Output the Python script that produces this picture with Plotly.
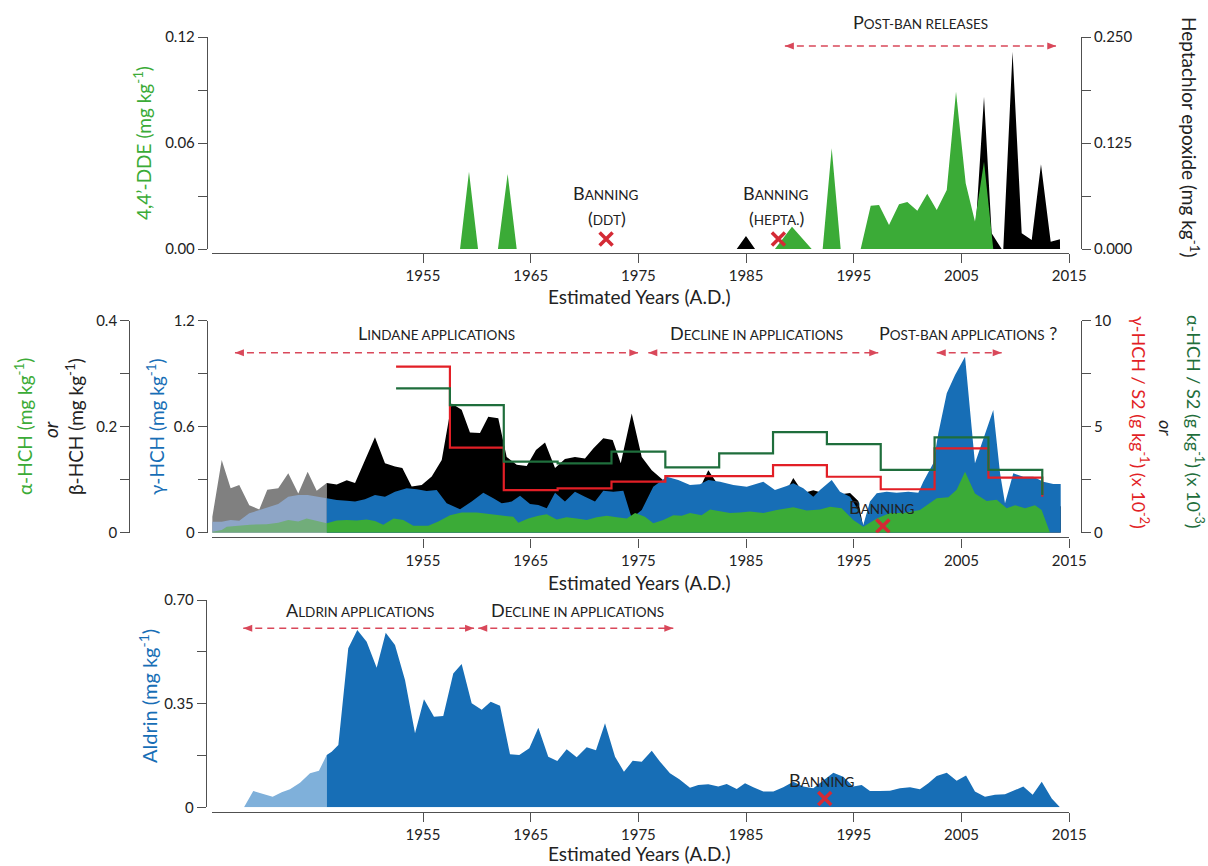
import plotly.graph_objects as go

# ------------------------------------------------------------------ data
x_ticks = [1955, 1965, 1975, 1985, 1995, 2005, 2015]
EARLY_END = 1946.06  # lighter (extrapolated) part ends here

# top panel : 4,4'-DDE (mg/kg) and heptachlor epoxide (mg/kg)
dde_year = [1958.44, 1959.27, 1960.11, 1961.96, 1962.86, 1963.70, 1987.68, 1989.26, 1991.09,
            1992.11, 1992.95, 1993.78, 1995.64, 1996.57, 1997.34, 1998.27, 1999.20, 1999.97,
            2000.90, 2001.82, 2002.70, 2003.63, 2004.49, 2005.39, 2006.25, 2007.09, 2007.95]
dde_val = [0, 0.0437, 0, 0, 0.0425, 0, 0, 0.0126, 0,
           0, 0.057, 0, 0, 0.0245, 0.0249, 0.0136, 0.0253, 0.0266,
           0.0217, 0.0313, 0.0221, 0.0334, 0.089, 0.0372, 0.0155, 0.0494, 0]

hepta_year = [1984.13, 1984.99, 1985.83, 2006.19, 2007.09, 2007.80, 2008.73, 2008.88, 2009.74,
              2010.59, 2011.52, 2012.38, 2013.28, 2014.14, 2014.15]
hepta_val = [0, 0.0153, 0, 0, 0.1796, 0.0185, 0, 0, 0.2326,
             0.0185, 0.0106, 0.100, 0.0086, 0.0114, 0]

# middle panel : gamma-HCH (mg/kg)
ghch_year = [1935.44, 1936.31, 1937.14, 1937.94, 1938.87, 1939.80, 1940.54, 1941.56, 1942.49,
             1943.42, 1944.29, 1945.13, 1946.06, 1946.99, 1947.92, 1948.69, 1949.61, 1950.54,
             1951.47, 1952.40, 1953.49, 1954.42, 1955.34, 1956.27, 1957.20, 1958.44, 1959.52,
             1960.60, 1961.53, 1962.31, 1963.24, 1964.01, 1964.94, 1965.71, 1966.49, 1967.26,
             1968.18, 1969.11, 1970.04, 1970.97, 1971.74, 1972.67, 1973.60, 1974.38, 1975.31,
             1976.38, 1977.63, 1978.70, 1979.79, 1980.72, 1981.49, 1982.58, 1983.81, 1985.06,
             1986.60, 1987.68, 1988.77, 1989.38, 1990.31, 1991.24, 1991.86, 1992.95, 1993.72,
             1994.65, 1995.42, 1995.88, 1996.50, 1997.13, 1998.05, 1998.98, 2000.06, 2000.99,
             2001.45, 2002.38, 2002.85, 2003.63, 2004.40, 2005.33, 2006.25, 2007.18, 2007.95,
             2008.58, 2009.04, 2009.81, 2010.74, 2011.67, 2012.60, 2013.52, 2014.21, 2014.22]
ghch_val = [0.062, 0.062, 0.072, 0.068, 0.110, 0.129, 0.144, 0.162, 0.204,
            0.213, 0.213, 0.204, 0.195, 0.185, 0.181, 0.176, 0.189, 0.213,
            0.204, 0.232, 0.251, 0.246, 0.236, 0.242, 0.166, 0.133, 0.176,
            0.226, 0.195, 0.166, 0.176, 0.209, 0.163, 0.157, 0.138, 0.226,
            0.176, 0.232, 0.204, 0.176, 0.238, 0.232, 0.238, 0.082, 0.129,
            0.260, 0.317, 0.298, 0.270, 0.274, 0.298, 0.289, 0.270, 0.260,
            0.289, 0.242, 0.264, 0.280, 0.251, 0.204, 0.242, 0.298, 0.232,
            0.204, 0.129, 0.044, 0.176, 0.223, 0.232, 0.226, 0.232, 0.226,
            0.289, 0.393, 0.563, 0.789, 0.893, 0.996, 0.393, 0.553, 0.695,
            0.336, 0.166, 0.336, 0.317, 0.317, 0.289, 0.276, 0.276, 0]

# middle panel : beta-HCH (mg/kg)
bhch_year = [1935.44, 1936.31, 1937.14, 1937.94, 1938.87, 1939.80, 1940.54, 1941.56, 1942.49,
             1943.42, 1944.29, 1945.13, 1946.06, 1946.99, 1947.92, 1948.69, 1950.54, 1951.47,
             1952.40, 1953.08, 1953.95, 1954.88, 1955.81, 1956.74, 1957.66, 1958.59, 1959.36,
             1960.29, 1961.06, 1961.99, 1962.77, 1963.70, 1964.63, 1965.49, 1966.33, 1967.26,
             1968.18, 1969.11, 1970.04, 1970.81, 1971.74, 1972.61, 1973.36, 1974.38, 1975.31,
             1976.24, 1977.31, 1978.70, 1980.72, 1981.49, 1982.58, 1985.06, 1988.77, 1989.38,
             1990.31, 1991.24, 1992.95, 1994.65, 1995.42, 1995.88, 1996.50, 1998.05, 2002.38,
             2005.33, 2008.58, 2009.04, 2012.60, 2014.21, 2014.22]
bhch_val = [0.030, 0.137, 0.084, 0.090, 0.052, 0.044, 0.081, 0.084, 0.112,
            0.074, 0.115, 0.079, 0.094, 0.091, 0.099, 0.094, 0.180, 0.131,
            0.125, 0.122, 0.087, 0.090, 0.106, 0.137, 0.244, 0.232, 0.189,
            0.188, 0.219, 0.216, 0.143, 0.128, 0.126, 0.156, 0.170, 0.122,
            0.139, 0.143, 0.140, 0.159, 0.178, 0.175, 0.131, 0.225, 0.143,
            0.118, 0.099, 0.080, 0.085, 0.118, 0.085, 0.080, 0.080, 0.103,
            0.075, 0.080, 0.070, 0.075, 0.060, 0.010, 0.050, 0.050, 0.050,
            0.060, 0.050, 0.040, 0.050, 0.050, 0]

# middle panel : alpha-HCH (mg/kg)
ahch_year = [1935.44, 1936.31, 1936.78, 1937.85, 1938.94, 1940.49, 1941.56, 1942.49, 1943.42,
             1944.20, 1945.13, 1946.06, 1946.99, 1947.92, 1948.84, 1949.77, 1950.54, 1951.31,
             1952.27, 1953.17, 1954.10, 1955.49, 1956.42, 1957.51, 1958.59, 1959.99, 1961.22,
             1962.46, 1963.39, 1963.85, 1964.78, 1965.71, 1966.49, 1967.41, 1968.34, 1969.27,
             1970.20, 1971.13, 1972.06, 1972.99, 1973.92, 1974.69, 1975.61, 1976.38, 1977.31,
             1978.24, 1979.02, 1979.79, 1980.87, 1981.65, 1982.58, 1983.51, 1984.43, 1985.36,
             1986.60, 1987.84, 1989.38, 1990.63, 1991.86, 1992.79, 1993.87, 1994.95, 1995.88,
             1997.13, 1998.36, 1999.60, 2001.14, 2002.70, 2003.78, 2004.55, 2005.33, 2006.25,
             2007.34, 2008.27, 2009.20, 2009.97, 2010.90, 2011.82, 2012.44, 2013.22]
ahch_val = [0.002, 0.005, 0.011, 0.013, 0.015, 0.016, 0.019, 0.024, 0.021,
            0.027, 0.022, 0.018, 0.023, 0.024, 0.023, 0.025, 0.022, 0.015,
            0.027, 0.024, 0.013, 0.013, 0.021, 0.033, 0.038, 0.038, 0.035,
            0.032, 0.030, 0.019, 0.027, 0.032, 0.035, 0.025, 0.029, 0.027,
            0.024, 0.029, 0.032, 0.029, 0.027, 0.037, 0.030, 0.018, 0.024,
            0.033, 0.032, 0.037, 0.033, 0.044, 0.040, 0.037, 0.038, 0.040,
            0.037, 0.043, 0.048, 0.042, 0.044, 0.049, 0.046, 0.024, 0.011,
            0.027, 0.037, 0.037, 0.043, 0.065, 0.067, 0.081, 0.115, 0.074,
            0.060, 0.062, 0.046, 0.052, 0.046, 0.052, 0.043, 0]

# middle panel : ratios to S2 (right axis), 5-year steps
step_year = [1952.5, 1957.5, 1962.5, 1967.5, 1972.5, 1977.5, 1982.5,
             1987.5, 1992.5, 1997.5, 2002.5, 2007.5, 2012.5]
gs2_val = [7.83, 4.01, 2.01, 2.09, 2.41, 2.67, 2.67, 3.19, 2.64, 2.05, 3.98, 2.60, 1.70]
as2_val = [6.81, 6.02, 3.35, 3.27, 3.82, 3.08, 3.74, 4.74, 4.18, 2.96, 4.50, 2.96, 1.78]

# bottom panel : aldrin (mg/kg)
aldrin_year = [1938.38, 1939.24, 1940.17, 1941.04, 1941.88, 1942.65, 1943.58, 1944.51, 1945.34,
               1946.06, 1946.52, 1947.14, 1948.06, 1948.90, 1949.77, 1950.70, 1951.54, 1952.40,
               1953.33, 1954.26, 1955.09, 1956.02, 1956.88, 1957.81, 1958.59, 1959.52, 1960.45,
               1961.29, 1962.15, 1963.08, 1963.94, 1964.87, 1965.71, 1966.63, 1967.47, 1968.34,
               1969.27, 1970.20, 1971.06, 1971.90, 1972.83, 1973.66, 1974.47, 1975.31, 1976.24,
               1977.01, 1977.93, 1978.80, 1979.79, 1980.56, 1981.49, 1982.42, 1983.20, 1984.13,
               1984.90, 1985.67, 1986.60, 1987.53, 1988.45, 1989.38, 1990.31, 1991.24, 1992.17,
               1993.10, 1994.02, 1994.95, 1995.73, 1996.50, 1997.43, 1998.36, 1999.29, 2000.22,
               2001.14, 2001.92, 2002.70, 2003.63, 2004.55, 2005.42, 2006.25, 2007.18, 2008.11,
               2009.04, 2009.97, 2010.74, 2011.61, 2012.45, 2013.38, 2014.14]
aldrin_val = [0, 0.055, 0.045, 0.036, 0.051, 0.061, 0.083, 0.115, 0.123,
              0.177, 0.188, 0.210, 0.537, 0.599, 0.559, 0.471, 0.589, 0.548,
              0.430, 0.250, 0.365, 0.306, 0.308, 0.452, 0.484, 0.351, 0.329,
              0.356, 0.343, 0.179, 0.177, 0.199, 0.269, 0.171, 0.156, 0.196,
              0.169, 0.203, 0.193, 0.284, 0.171, 0.120, 0.157, 0.154, 0.191,
              0.154, 0.115, 0.095, 0.066, 0.075, 0.078, 0.070, 0.079, 0.062,
              0.081, 0.068, 0.053, 0.053, 0.068, 0.086, 0.070, 0.064, 0.092,
              0.117, 0.103, 0.070, 0.075, 0.055, 0.055, 0.056, 0.064, 0.068,
              0.061, 0.081, 0.106, 0.117, 0.090, 0.107, 0.053, 0.036, 0.042,
              0.044, 0.058, 0.070, 0.042, 0.086, 0.030, 0]

# banning events (year, small height in the panel's units)
ban_top_year = [1972.0, 1988.0]
ban_top_val = [0.0057, 0.0057]
ban_mid_year = [1997.7]
ban_mid_val = [0.32]
ban_bot_year = [1992.3]
ban_bot_val = [0.030]

# ------------------------------------------------------------------ styling
W, H = 1208, 866
FONT = "Lato"
GREEN = "#3bab37"
BLUE = "#176eb6"
RED_X = "#d42a35"
RED_STEP = "#e21f26"
DGREEN = "#1f6e3c"
ARROW = "#d9485a"
AXC = "#505050"
TXT = "#222222"
GREY_E = "#808080"
BLUE_E = "#8da5c6"
GREEN_E = "#71ad7a"
ALDRIN_E = "#7fb0da"


def px(x):
    return x / W


def py(y):
    return 1 - y / H


X_DOM = [px(212.0), px(1069.2)]
X_RANGE = [1955 - (423 - 212.0) / 10.77, 2015]


def split(years, vals, early):
    if early:
        pts = [(a, b) for a, b in zip(years, vals) if a <= EARLY_END]
    else:
        pts = [(a, b) for a, b in zip(years, vals) if a >= EARLY_END]
    return [p[0] for p in pts], [p[1] for p in pts]


def area(x, y, color, xa, ya):
    return go.Scatter(x=x, y=y, xaxis=xa, yaxis=ya, mode="lines", fill="tozeroy",
                      fillcolor=color, line=dict(width=0, color=color),
                      hoverinfo="skip", showlegend=False)


def xmark(x, y, xa, ya):
    return go.Scatter(x=x, y=y, xaxis=xa, yaxis=ya, mode="markers",
                      marker=dict(symbol="x-thin", size=13, line=dict(width=3.5, color=RED_X)),
                      hoverinfo="skip", showlegend=False)


fig = go.Figure()

# top panel (base: heptachlor on y, overlay: DDE on y2)
fig.add_trace(area(hepta_year, hepta_val, "#000000", "x", "y"))
fig.add_trace(area(dde_year, dde_val, GREEN, "x", "y2"))
fig.add_trace(xmark(ban_top_year, ban_top_val, "x", "y2"))

# middle panel: beta (y3), gamma (y4), alpha (y5), ratios (y6)
for early, col in [(True, GREY_E), (False, "#000000")]:
    xs, ys = split(bhch_year, bhch_val, early)
    fig.add_trace(area(xs, ys, col, "x2", "y3"))
for early, col in [(True, BLUE_E), (False, BLUE)]:
    xs, ys = split(ghch_year, ghch_val, early)
    fig.add_trace(area(xs, ys, col, "x2", "y4"))
for early, col in [(True, GREEN_E), (False, GREEN)]:
    xs, ys = split(ahch_year, ahch_val, early)
    fig.add_trace(area(xs, ys, col, "x2", "y5"))
fig.add_trace(go.Scatter(x=step_year, y=gs2_val, xaxis="x2", yaxis="y6", mode="lines",
                         line=dict(shape="hv", color=RED_STEP, width=2.2),
                         hoverinfo="skip", showlegend=False))
fig.add_trace(go.Scatter(x=step_year, y=as2_val, xaxis="x2", yaxis="y6", mode="lines",
                         line=dict(shape="hv", color=DGREEN, width=2.2),
                         hoverinfo="skip", showlegend=False))
fig.add_trace(xmark(ban_mid_year, ban_mid_val, "x2", "y6"))

# bottom panel: aldrin (y7)
for early, col in [(True, ALDRIN_E), (False, BLUE)]:
    xs, ys = split(aldrin_year, aldrin_val, early)
    fig.add_trace(area(xs, ys, col, "x3", "y7"))
fig.add_trace(xmark(ban_bot_year, ban_bot_val, "x3", "y7"))

# ------------------------------------------------------------------ axes
TICKFONT = dict(family=FONT, size=15, color=TXT)


def xcfg(line_y):
    return dict(domain=X_DOM, range=X_RANGE, anchor="free", position=py(line_y), automargin=False,
                showline=True, linecolor=AXC, linewidth=1.4, ticks="outside", ticklen=9,
                tickcolor=AXC, tickwidth=1.4, tickvals=x_ticks, ticktext=[str(t) for t in x_ticks],
                showgrid=False, zeroline=False, tickfont=TICKFONT, fixedrange=True)


def ycfg(rng, major, labels, minor, pos_x, side="left", dom=None, overlaying=None, visible=True):
    d = dict(range=rng, anchor="free", position=px(pos_x), side=side, automargin=False,
             showline=True, linecolor=AXC, linewidth=1.4, ticks="outside", ticklen=9,
             tickcolor=AXC, tickwidth=1.4, tickmode="array", tickvals=major, ticktext=labels,
             minor=dict(tickmode="array", tickvals=minor, ticks="outside", ticklen=9,
                        tickcolor=AXC, tickwidth=1.4, showgrid=False),
             showgrid=False, zeroline=False, tickfont=TICKFONT, fixedrange=True,
             visible=visible)
    if dom is not None:
        d["domain"] = dom
    if overlaying is not None:
        d["overlaying"] = overlaying
    return d


TOP_DOM = [py(249), py(37)]
MID_DOM = [py(532.7), py(320.7)]
BOT_DOM = [py(807.3), py(600)]

fig.update_layout(
    xaxis=xcfg(253),
    xaxis2=xcfg(537.3),
    xaxis3=xcfg(811.7),
    yaxis=ycfg([0, 0.25], [0, 0.125, 0.25], ["0.000", "0.125", "0.250"], [0.0625, 0.1875],
               1080.7, side="right", dom=TOP_DOM),
    yaxis2=ycfg([0, 0.12], [0, 0.06, 0.12], ["0.00", "0.06", "0.12"], [0.03, 0.09],
                207, overlaying="y"),
    yaxis3=ycfg([0, 0.4], [0, 0.2, 0.4], ["0", "0.2", "0.4"], [0.1, 0.3], 129.3, dom=MID_DOM),
    yaxis4=ycfg([0, 1.2], [0, 0.6, 1.2], ["0", "0.6", "1.2"], [0.3, 0.9], 207, overlaying="y3"),
    yaxis5=ycfg([0, 0.4], [0, 0.4], ["0", "0.4"], [], 129.3, overlaying="y3", visible=False),
    yaxis6=ycfg([0, 10], [0, 5, 10], ["0", "5", "10"], [2.5, 7.5], 1080.7, side="right",
                overlaying="y3"),
    yaxis7=ycfg([0, 0.7], [0, 0.35, 0.7], ["0", "0.35", "0.70"], [0.175, 0.525], 206,
                dom=BOT_DOM),
)

# ------------------------------------------------------------------ text
ann = []


def text(t, x, y, size=18, color=TXT, angle=0, xref="paper", yref="paper", xanchor="center"):
    ann.append(dict(text=t, x=x, y=y, xref=xref, yref=yref, showarrow=False, textangle=angle,
                    xanchor=xanchor, yanchor="middle", font=dict(family=FONT, size=size, color=color)))


def sc(first, rest, tail=""):
    return f"{first}<span style='font-size:13.5px'>{rest}</span>{tail}"


SUP = "<sup>-1</sup>"
# x-axis titles
for yy in (296, 582, 853):
    text("Estimated Years (A.D.)", px(639), py(yy), size=19)

# y-axis titles
text(f"4,4’-DDE (mg kg{SUP})", px(143), py(143), size=19, color=GREEN, angle=-90)
text(f"Heptachlor epoxide (mg kg{SUP})", px(1190), py(137), size=19, angle=90)
text(f"α-HCH (mg kg{SUP})", px(23), py(427), size=19, color=GREEN, angle=-90)
text("<i>or</i>", px(50), py(430), size=19, angle=-90)
text(f"β-HCH (mg kg{SUP})", px(74), py(427), size=19, angle=-90)
text(f"γ-HCH (mg kg{SUP})", px(155), py(427), size=19, color=BLUE, angle=-90)
text(f"γ-HCH / S2 (g kg{SUP}) (x 10<sup>-2</sup>)", px(1140), py(422), color=RED_STEP, angle=90)
text("<i>or</i>", px(1166), py(428), angle=90)
text(f"α-HCH / S2 (g kg{SUP}) (x 10<sup>-3</sup>)", px(1195), py(422), color=DGREEN, angle=90)
text(f"Aldrin (mg kg{SUP})", px(148), py(696), size=20, color=BLUE, angle=-90)

# panel annotations
text(sc("B", "ANNING"), 1971.9, py(193), xref="x")
text("(<span style='font-size:13.5px'>DDT</span>)", 1972.1, py(218), xref="x")
text(sc("B", "ANNING"), 1987.7, py(193), xref="x")
text("(<span style='font-size:13.5px'>HEPTA.</span>)", 1987.8, py(218), xref="x")
text(sc("P", "OST-BAN RELEASES"), 2001.15, py(22), xref="x")

text(sc("L", "INDANE APPLICATIONS"), 1956.27, py(333), xref="x2")
text(sc("D", "ECLINE IN APPLICATIONS"), 1985.98, py(333), xref="x2")
text(sc("P", "OST-BAN APPLICATIONS", " ?"), 2005.63, py(333), xref="x2")
text(sc("B", "ANNING"), 1997.59, py(507), xref="x2")

text(sc("A", "LDRIN APPLICATIONS"), 1949.15, py(610), xref="x3")
text(sc("D", "ECLINE IN APPLICATIONS"), 1969.3, py(610), xref="x3")
text(sc("B", "ANNING"), 1992.02, py(780), xref="x3")

# dashed double arrows (line + two small filled heads)
shapes = []
arrows = [("x", 1988.6, 2013.8, 46), ("x2", 1937.54, 1974.99, 352.7), ("x2", 1975.92, 1997.27, 352.7),
          ("x2", 2002.70, 2008.73, 352.7), ("x3", 1938.31, 1959.74, 628.3), ("x3", 1960.13, 1978.24, 628.3)]
for xr, a, b, yy in arrows:
    shapes.append(dict(type="line", xref=xr, yref="paper", x0=a, x1=b, y0=py(yy), y1=py(yy),
                       line=dict(color=ARROW, width=1.6, dash="7px,5px")))
    for xx, path in ((a, "M0,0 L9,3.5 L9,-3.5 Z"), (b, "M0,0 L-9,3.5 L-9,-3.5 Z")):
        shapes.append(dict(type="path", xref=xr, yref="paper", xsizemode="pixel", ysizemode="pixel",
                           xanchor=xx, yanchor=py(yy), path=path, fillcolor=ARROW,
                           line=dict(width=0)))

fig.update_layout(
    width=W, height=H, margin=dict(l=0, r=0, t=0, b=0, autoexpand=False),
    paper_bgcolor="white", plot_bgcolor="white",
    font=dict(family=FONT, color=TXT),
    annotations=ann, shapes=shapes, showlegend=False,
)

POST = ("var d=document.getElementById('{plot_id}');"
        "d.style.position='fixed';d.style.left='0px';d.style.top='0px';"
        "document.body.style.margin='0';document.documentElement.style.overflow='hidden';")
fig.write_html("out.html", post_script=POST, config={"displayModeBar": False})
